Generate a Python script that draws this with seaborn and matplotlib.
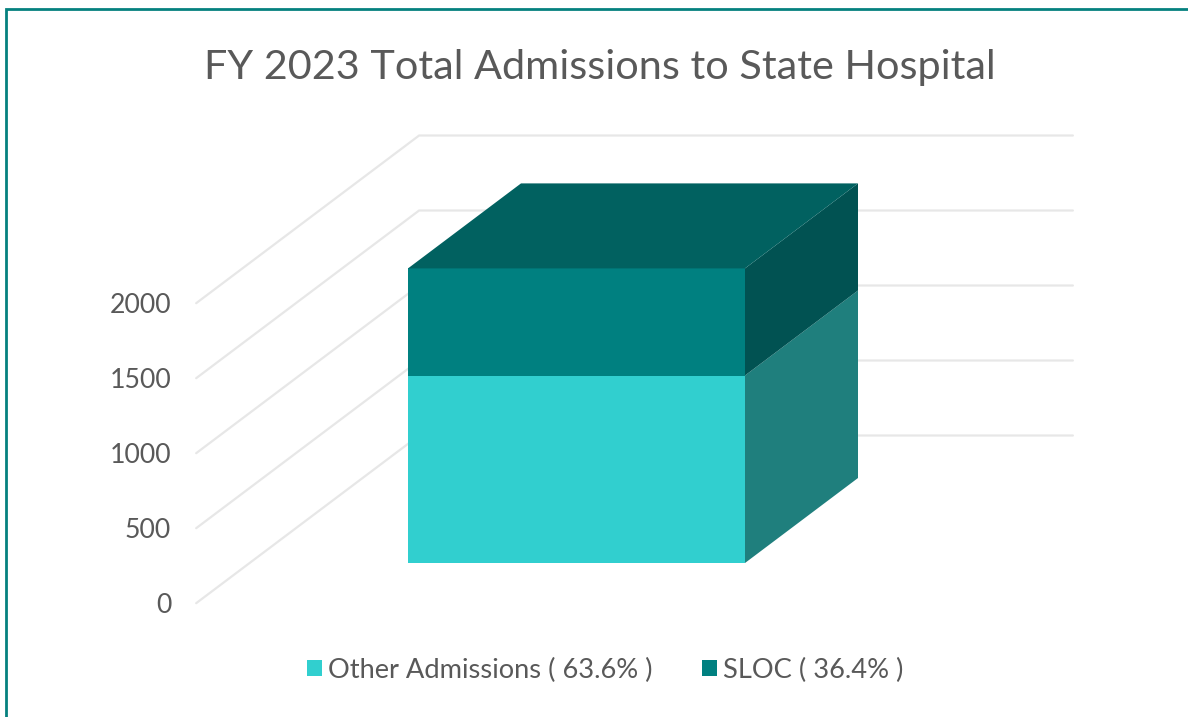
import matplotlib
matplotlib.use("Agg")
import matplotlib.pyplot as plt
from matplotlib.lines import Line2D
from matplotlib.patches import Patch
import seaborn as sns

# Data
category = ["FY 2023"]
other_admissions = [1250]
sloc = [714]
tick_values = [0, 500, 1000, 1500, 2000]
legend_labels = ["Other Admissions ( 63.6% )", "SLOC ( 36.4% )"]
title = "FY 2023 Total Admissions to State Hospital"

# Colours
c_other = "#31CFCF"
c_other_side = "#1F7F7D"
c_sloc = "#008080"
c_sloc_side = "#015252"
c_sloc_top = "#016160"
c_text = "#595959"
c_grid = "#E7E7E7"
c_border = "#05817F"

W, H = 1188, 717
PX_X = 337.0    # pixels per category width
PX_Y = 0.15     # pixels per admission
BAR_LEFT = 408  # pixel of bar left edge
BAR_BASE = 563  # pixel of bar bottom edge

# fake 3D: one unit of depth moves a point this far (data units)
DEPTH_X = 113 / PX_X
DEPTH_Y = 85 / PX_Y
FLOOR_FRONT, FLOOR_BACK = -0.473, 1.5
WALL_LEFT, WALL_RIGHT = -0.97, 0.97


def proj(x, val, d):
    return x + d * DEPTH_X, val + d * DEPTH_Y


def face(ax, pts, color):
    xs, ys = zip(*[proj(*p) for p in pts])
    ax.fill(xs, ys, color=color, lw=0, zorder=3)


sns.set_theme(style="white")
plt.rcParams["font.family"] = ["Lato", "DejaVu Sans"]

fig = plt.figure(figsize=(W / 100, H / 100), dpi=100)
ax = fig.add_axes([0, 0, 1, 1])

# Gridlines on the left and back walls
for val in tick_values:
    line = [proj(WALL_LEFT, val, FLOOR_FRONT), proj(WALL_LEFT, val, FLOOR_BACK),
            proj(WALL_RIGHT, val, FLOOR_BACK)]
    ax.plot(*zip(*line), color=c_grid, lw=1.6, zorder=1, solid_joinstyle="miter")
    ax.annotate(str(val), proj(WALL_LEFT, val, FLOOR_FRONT), xytext=(-18, -1.5),
                textcoords="offset points", ha="right", va="center",
                fontsize=19.2, color=c_text)

# Front faces
sns.barplot(x=category, y=other_admissions, color=c_other, saturation=1, width=1,
            linewidth=0, ax=ax, zorder=3)
sns.barplot(x=category, y=sloc, bottom=other_admissions, color=c_sloc, saturation=1,
            width=1, linewidth=0, ax=ax, zorder=3)

# Side and top faces
low = other_admissions[0]
top = low + sloc[0]
face(ax, [(0.5, 0, 0), (0.5, 0, 1), (0.5, low, 1), (0.5, low, 0)], c_other_side)
face(ax, [(0.5, low, 0), (0.5, low, 1), (0.5, top, 1), (0.5, top, 0)], c_sloc_side)
face(ax, [(-0.5, top, 0), (0.5, top, 0), (0.5, top, 1), (-0.5, top, 1)], c_sloc_top)

ax.set_xlim(-0.5 - BAR_LEFT / PX_X, -0.5 + (W - BAR_LEFT) / PX_X)
ax.set_ylim((BAR_BASE - H) / PX_Y, BAR_BASE / PX_Y)
ax.axis("off")

fig.text(600 / W, 1 - 67 / H, title, ha="center", va="center", fontsize=29.8, color=c_text)

handles = [Patch(color=c_other, lw=0), Patch(color=c_sloc, lw=0)]
fig.legend(handles, legend_labels, ncol=2, loc="center", frameon=False,
           bbox_to_anchor=(605 / W, 1 - 670 / H), fontsize=19.6, labelcolor=c_text,
           handlelength=0.55, handleheight=0.55, handletextpad=0.22, columnspacing=1.8)

# Frame: top and left only, the screenshot is cut off elsewhere
fig.add_artist(Line2D([6 / W, 6 / W, 1], [0, 1 - 9 / H, 1 - 9 / H], color=c_border, lw=2,
                      solid_joinstyle="miter"))

fig.savefig("out.png", dpi=100)
